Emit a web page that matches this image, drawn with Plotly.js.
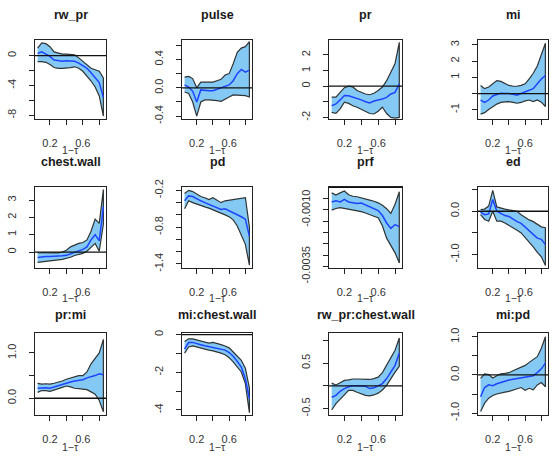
<!DOCTYPE html>
<html>
<head>
<meta charset="utf-8">
<script src="https://cdn.plot.ly/plotly-3.0.1.min.js"></script>
<style>
  html, body { margin: 0; padding: 0; background: #ffffff; }
  #chart { width: 555px; height: 457px; }
</style>
</head>
<body>
<div id="chart"></div>
<script>
// Quantile-regression coefficient paths: estimate with confidence band, against 1 - tau
const oneMinusTau = [0.05, 0.10, 0.15, 0.20, 0.25, 0.30, 0.35, 0.40, 0.45, 0.50, 0.55, 0.60, 0.65, 0.70, 0.75, 0.80, 0.85];

const panelTitles = ["rw_pr", "pulse", "pr", "mi", "chest.wall", "pd", "prf", "ed",
                     "pr:mi", "mi:chest.wall", "rw_pr:chest.wall", "mi:pd"];

const xTickVals = [0.2, 0.4, 0.6, 0.8];
const xTickText = ["0.2", "", "0.6", ""];
const xLabel = "1\u2212\u03c4";

// rw_pr
const rwPrHi  = [1.0, 1.7, 1.6, 1.2, 0.5, 0.3, 0.2, 0.2, 0.2, 0.1, -0.3, -0.8, -1.2, -1.7, -1.9, -2.1, -3.0];
const rwPrEst = [0.3, 0.5, 0.2, -0.1, -0.6, -0.7, -0.75, -0.7, -0.7, -0.75, -1.0, -1.3, -1.7, -2.3, -2.9, -3.6, -5.6];
const rwPrLo  = [-0.8, -0.8, -0.9, -1.2, -1.6, -1.7, -1.7, -1.7, -1.6, -1.5, -1.7, -2.1, -2.7, -3.4, -4.2, -5.4, -8.1];
// pulse
const pulseHi  = [0.15, 0.16, 0.13, 0.0, 0.08, 0.08, 0.08, 0.08, 0.1, 0.12, 0.18, 0.2, 0.34, 0.5, 0.56, 0.58, 0.65];
const pulseEst = [0.04, 0.01, -0.05, -0.2, -0.03, -0.04, -0.04, -0.04, -0.02, 0.0, 0.01, 0.04, 0.1, 0.2, 0.26, 0.22, 0.25];
const pulseLo  = [-0.06, -0.08, -0.2, -0.4, -0.2, -0.17, -0.17, -0.17, -0.18, -0.19, -0.16, -0.13, -0.1, -0.1, -0.11, -0.11, -0.13];
// pr
const prHi  = [-0.7, -0.7, -0.4, -0.1, 0.0, -0.05, -0.28, -0.4, -0.5, -0.55, -0.45, -0.28, -0.06, 0.35, 0.9, 1.45, 2.8];
const prEst = [-1.25, -1.14, -0.88, -0.6, -0.62, -0.7, -0.8, -0.88, -1.0, -1.08, -0.95, -0.9, -0.82, -0.72, -0.5, -0.4, 0.15];
const prLo  = [-1.68, -1.74, -1.45, -1.03, -1.1, -1.25, -1.35, -1.46, -1.6, -1.75, -1.78, -1.6, -1.35, -1.75, -2.0, -2.04, -2.0];
// mi
const miHi  = [0.5, 0.3, 0.4, 0.6, 0.8, 0.75, 0.6, 0.5, 0.45, 0.45, 0.5, 0.6, 0.9, 1.25, 1.7, 2.35, 3.1];
const miEst = [-0.4, -0.55, -0.4, -0.15, -0.06, 0.02, 0.0, 0.0, -0.05, -0.1, 0.0, 0.1, 0.2, 0.3, 0.6, 0.9, 1.1];
const miLo  = [-1.27, -1.18, -0.98, -0.8, -0.65, -0.55, -0.52, -0.5, -0.55, -0.6, -0.55, -0.45, -0.4, -0.5, -0.4, -0.53, -0.8];
// chest.wall
const chestHi  = [-0.04, -0.04, -0.04, -0.04, -0.05, -0.05, 0.0, 0.1, 0.3, 0.4, 0.5, 0.55, 0.7, 1.2, 1.9, 1.65, 3.6];
const chestEst = [-0.32, -0.28, -0.26, -0.26, -0.26, -0.25, -0.22, -0.19, -0.1, 0.0, 0.1, 0.15, 0.3, 0.7, 1.0, 0.65, 2.6];
const chestLo  = [-0.6, -0.55, -0.5, -0.5, -0.48, -0.45, -0.42, -0.38, -0.3, -0.2, -0.12, -0.08, 0.05, 0.3, 0.5, 0.05, 1.6];
// pd
const pdHi  = [-0.25, -0.2, -0.22, -0.26, -0.3, -0.32, -0.35, -0.32, -0.36, -0.4, -0.37, -0.36, -0.36, -0.35, -0.34, -0.32, -0.8];
const pdEst = [-0.37, -0.29, -0.3, -0.34, -0.37, -0.4, -0.43, -0.46, -0.48, -0.51, -0.5, -0.53, -0.56, -0.6, -0.63, -0.67, -0.95];
const pdLo  = [-0.5, -0.37, -0.4, -0.43, -0.45, -0.47, -0.49, -0.51, -0.54, -0.57, -0.6, -0.63, -0.68, -0.78, -0.92, -1.08, -1.42];
// prf
const prfHi  = [-0.00025, -0.00035, -0.00025, -0.00017, -0.00033, -0.0004, -0.00042, -0.00046, -0.00053, -0.00057, -0.00062, -0.00069, -0.0008, -0.00095, -0.00116, -0.00075, -0.0002];
const prfEst = [-0.00065, -0.0006, -0.00065, -0.00054, -0.00065, -0.0007, -0.00072, -0.0007, -0.00078, -0.00086, -0.00094, -0.00103, -0.00125, -0.00158, -0.00182, -0.00165, -0.00174];
const prfLo  = [-0.00101, -0.00094, -0.0009, -0.00094, -0.00098, -0.00101, -0.00104, -0.00108, -0.00114, -0.0012, -0.00128, -0.00135, -0.0017, -0.00225, -0.00255, -0.0029, -0.00335];
// ed
const edHi  = [0.04, 0.05, 0.12, 0.48, 0.1, 0.07, 0.05, 0.03, 0.02, 0.0, -0.08, -0.15, -0.2, -0.24, -0.31, -0.36, -0.38];
const edEst = [-0.02, -0.08, -0.06, 0.27, 0.0, -0.06, -0.1, -0.12, -0.19, -0.24, -0.28, -0.36, -0.45, -0.52, -0.62, -0.65, -0.77];
const edLo  = [-0.08, -0.19, -0.23, 0.0, -0.23, -0.23, -0.27, -0.31, -0.38, -0.44, -0.5, -0.6, -0.72, -0.82, -0.95, -1.05, -1.25];
// pr:mi
const prMiHi  = [0.33, 0.31, 0.32, 0.31, 0.33, 0.35, 0.38, 0.42, 0.45, 0.48, 0.5, 0.5, 0.58, 0.76, 0.87, 1.0, 1.3];
const prMiEst = [0.22, 0.23, 0.23, 0.22, 0.25, 0.27, 0.3, 0.33, 0.36, 0.38, 0.4, 0.41, 0.45, 0.47, 0.5, 0.54, 0.52];
const prMiLo  = [0.13, 0.17, 0.17, 0.15, 0.19, 0.21, 0.24, 0.27, 0.25, 0.22, 0.21, 0.2, 0.19, 0.14, 0.09, -0.05, -0.3];
// mi:chest.wall
const miChestHi  = [-0.36, -0.22, -0.22, -0.27, -0.33, -0.41, -0.45, -0.41, -0.45, -0.53, -0.6, -0.7, -0.92, -1.16, -1.36, -1.78, -2.84];
const miChestEst = [-0.76, -0.42, -0.41, -0.45, -0.53, -0.59, -0.63, -0.66, -0.72, -0.78, -0.82, -0.95, -1.15, -1.42, -1.72, -2.35, -3.4];
const miChestLo  = [-0.98, -0.65, -0.6, -0.62, -0.7, -0.76, -0.82, -0.86, -0.9, -0.98, -1.07, -1.22, -1.45, -1.69, -1.98, -2.6, -4.15];
// rw_pr:chest.wall
const rwChestHi  = [0.06, 0.02, 0.07, 0.12, 0.13, 0.15, 0.15, 0.15, 0.15, 0.14, 0.16, 0.19, 0.29, 0.45, 0.62, 0.78, 1.05];
const rwChestEst = [-0.25, -0.21, -0.12, -0.06, -0.02, 0.0, 0.0, 0.0, -0.01, -0.06, -0.04, 0.0, 0.05, 0.16, 0.3, 0.45, 0.72];
const rwChestLo  = [-0.53, -0.39, -0.3, -0.2, -0.1, -0.1, -0.14, -0.18, -0.21, -0.22, -0.2, -0.16, -0.09, 0.01, 0.14, 0.3, 0.43];
// mi:pd
const miPdHi  = [-0.09, 0.03, 0.01, -0.08, -0.02, 0.03, 0.04, 0.06, 0.11, 0.15, 0.19, 0.25, 0.33, 0.4, 0.48, 0.7, 1.0];
const miPdEst = [-0.57, -0.33, -0.26, -0.28, -0.23, -0.19, -0.16, -0.13, -0.11, -0.09, -0.06, -0.05, -0.04, -0.02, 0.06, 0.16, 0.31];
const miPdLo  = [-0.96, -0.74, -0.61, -0.54, -0.5, -0.47, -0.45, -0.43, -0.41, -0.37, -0.33, -0.4, -0.35, -0.39, -0.26, -0.2, -0.31];

// y-axis tick positions and labels for each panel
const yTickVals = [
  [-8, -6, -4, -2, 0],
  [-0.4, -0.2, 0, 0.2, 0.4, 0.6],
  [-2, -1, 0, 1, 2],
  [-1, 0, 1, 2, 3],
  [0, 1, 2, 3],
  [-1.4, -1.2, -1.0, -0.8, -0.6, -0.4, -0.2],
  [-0.0035, -0.003, -0.0025, -0.002, -0.0015, -0.001, -0.0005],
  [-1.0, -0.5, 0, 0.5],
  [0, 0.5, 1.0],
  [-4, -3, -2, -1, 0],
  [-0.5, 0, 0.5, 1.0],
  [-1, -0.5, 0, 0.5, 1]
];
const yTickText = [
  ["-8", "", "-4", "", "0"],
  ["-0.4", "", "0.0", "", "0.4", ""],
  ["-2", "", "0", "1", "2"],
  ["-1", "", "1", "2", "3"],
  ["0", "1", "2", "3"],
  ["-1.4", "", "", "-0.8", "", "", "-0.2"],
  ["-0.0035", "", "", "", "", "-0.0010", ""],
  ["-1.0", "", "0.0", ""],
  ["0.0", "", "1.0"],
  ["-4", "", "-2", "", "0"],
  ["-0.5", "", "0.5", ""],
  ["-1.0", "", "0.0", "", "1.0"]
];

const series = [
  [rwPrHi, rwPrEst, rwPrLo], [pulseHi, pulseEst, pulseLo], [prHi, prEst, prLo], [miHi, miEst, miLo],
  [chestHi, chestEst, chestLo], [pdHi, pdEst, pdLo], [prfHi, prfEst, prfLo], [edHi, edEst, edLo],
  [prMiHi, prMiEst, prMiLo], [miChestHi, miChestEst, miChestLo], [rwChestHi, rwChestEst, rwChestLo], [miPdHi, miPdEst, miPdLo]
];

// ---- layout geometry ----
const W = 555, H = 457;
const colPx = [[35, 106], [182, 252], [329, 402], [478, 548]];
const rowPx = [[40, 119], [187, 268], [333, 415]];
const titleY = [15, 162, 315];
const xLabY = [150, 298, 447];
const xRange = [0.018, 0.882];
// vertical extent of each panel's plotting region
const yRanges = [
  [-8.49, 2.09], [-0.44, 0.674], [-2.1, 2.95], [-1.57, 3.3],
  [-0.92, 3.75], [-1.466, -0.145], [-0.00357, 0.00001], [-1.31, 0.56],
  [-0.37, 1.44], [-4.27, 0.09], [-0.64, 1.16], [-1.05, 1.1]
];

const FONT = "'Liberation Sans', Arial, Helvetica, sans-serif";
const fillCol = "#84c9f3";
const edgeCol = "#2f3435";
const estCol = "#1f44ff";

const traces = [];
const layout = {
  width: W, height: H,
  margin: { l: 0, r: 0, t: 0, b: 0 },
  paper_bgcolor: "#ffffff", plot_bgcolor: "#ffffff",
  showlegend: false,
  font: { family: FONT, color: "#333" },
  annotations: [], shapes: []
};

series.forEach((s, i) => {
  const k = i + 1;
  const xa = "x" + k, ya = "y" + k;
  const r = Math.floor(i / 4), c = i % 4;
  const [hi, est, lo] = s;

  traces.push({
    type: "scatter", mode: "lines", xaxis: xa, yaxis: ya,
    x: oneMinusTau.concat(oneMinusTau.slice().reverse()),
    y: hi.concat(lo.slice().reverse()),
    fill: "toself", fillcolor: fillCol,
    line: { color: edgeCol, width: 1.2 }, hoverinfo: "skip"
  });
  traces.push({
    type: "scatter", mode: "lines", xaxis: xa, yaxis: ya,
    x: oneMinusTau, y: est,
    line: { color: estCol, width: 1.5 }, hoverinfo: "skip"
  });

  const yr = yRanges[i];
  const common = {
    showgrid: false, zeroline: false, showline: true, mirror: true,
    linecolor: "#222", linewidth: 1,
    ticks: "outside", ticklen: 5, tickcolor: "#222", tickwidth: 1,
    tickfont: { family: FONT, size: 11, color: "#333" },
    tickmode: "array", fixedrange: true
  };
  layout["xaxis" + k] = Object.assign({}, common, {
    domain: [colPx[c][0] / W, colPx[c][1] / W],
    range: xRange, anchor: ya,
    tickvals: xTickVals, ticktext: xTickText, ticklabelstandoff: 9
  });
  layout["yaxis" + k] = Object.assign({}, common, {
    domain: [(H - rowPx[r][1]) / H, (H - rowPx[r][0]) / H],
    range: yr, anchor: xa, tickangle: -90,
    tickvals: yTickVals[i], ticktext: yTickText[i], ticklabelstandoff: 9
  });

  const xc = (colPx[c][0] + colPx[c][1]) / 2 / W;
  layout.annotations.push({
    xref: "paper", yref: "paper", x: xc, y: (H - titleY[r]) / H,
    xanchor: "center", yanchor: "middle", showarrow: false,
    text: "<b>" + panelTitles[i] + "</b>",
    font: { family: FONT, size: 12.5, color: "#1a1a1a" }
  });
  layout.annotations.push({
    xref: "paper", yref: "paper", x: xc, y: (H - xLabY[r]) / H,
    xanchor: "center", yanchor: "middle", showarrow: false,
    text: xLabel, font: { family: FONT, size: 10.5, color: "#333" }
  });

  // horizontal reference line at zero
  if (yr[0] < 0 && yr[1] > 0) {
    layout.shapes.push({
      type: "line", xref: xa + " domain", yref: ya,
      x0: 0, x1: 1, y0: 0, y1: 0,
      line: { color: "#111", width: 1.3 }
    });
  }
});

Plotly.newPlot("chart", traces, layout, { staticPlot: true, displayModeBar: false });
</script>
</body>
</html>
